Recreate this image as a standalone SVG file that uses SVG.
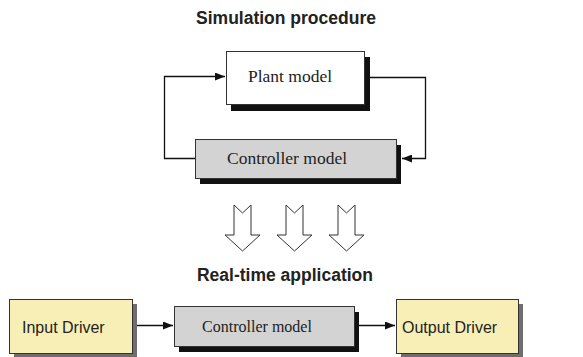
<svg xmlns="http://www.w3.org/2000/svg" width="583" height="357" viewBox="0 0 583 357">
<style>
.title{font-family:"Liberation Sans",Arial,sans-serif;font-weight:bold;font-size:17.5px;fill:#222;text-anchor:middle}
.serif{font-family:"Liberation Serif","Times New Roman",serif;fill:#222}
.sans{font-family:"Liberation Sans",Arial,sans-serif;font-size:16px;fill:#222}
.box{stroke:#333;stroke-width:1}
.white{fill:#fff}
.gray{fill:#d3d3d3}
.yellow{fill:#f8efb6}
.sh{fill:#111}
.shg{fill:#6e6e6e}
.conn{fill:none;stroke:#111;stroke-width:1.3}
.hollow{fill:#fff;stroke:#333;stroke-width:1}
</style>
<defs>
<marker id="ah" markerWidth="10" markerHeight="8" refX="10" refY="4" orient="auto" markerUnits="userSpaceOnUse">
<path d="M0,0 L10,4 L0,8 Z" fill="#111"/>
</marker>
</defs>
<text class="title" x="286" y="24">Simulation procedure</text>
<text class="title" x="285" y="281">Real-time application</text>
<g id="plant">
<rect class="sh" x="231" y="57" width="139" height="54"/>
<rect class="box white" x="226.5" y="51.5" width="138" height="53"/>
<text class="serif" x="290" y="82" font-size="17.5" text-anchor="middle">Plant model</text>
</g>
<g id="controller-sim">
<rect class="sh" x="200" y="145" width="201" height="39"/>
<rect class="box gray" x="195.5" y="139.5" width="201" height="39"/>
<text class="serif" x="287" y="164" font-size="17.5" text-anchor="middle">Controller model</text>
</g>
<g id="input-driver">
<rect class="shg" x="14" y="304" width="123" height="54"/>
<rect class="box yellow" x="9.5" y="299.5" width="123" height="54"/>
<text class="sans" x="22" y="333">Input Driver</text>
</g>
<g id="controller-rt">
<rect class="sh" x="179" y="312" width="180" height="40"/>
<rect class="box gray" x="174.5" y="306.5" width="180" height="40"/>
<text class="serif" x="257" y="332" font-size="16" text-anchor="middle">Controller model</text>
</g>
<g id="output-driver">
<rect class="shg" x="401" y="304" width="122" height="54"/>
<rect class="box yellow" x="396.5" y="299.5" width="122" height="54"/>
<text class="sans" x="402" y="333">Output Driver</text>
</g>
<g id="transfer-arrows">
<path class="hollow" d="M234,205 L242.5,213 L251,205 L251,235 L260,235 L242.5,251 L225,235 L234,235 Z"/>
<path class="hollow" d="M286,205 L294.5,213 L303,205 L303,235 L312,235 L294.5,251 L277,235 L286,235 Z"/>
<path class="hollow" d="M338,205 L346.5,213 L355,205 L355,235 L364,235 L346.5,251 L329,235 L338,235 Z"/>
</g>
<g id="connectors">
<path class="conn" d="M195,158.5 H164.5 V76.5 H225" marker-end="url(#ah)"/>
<path class="conn" d="M365,77.5 H425.5 V158.5 H402" marker-end="url(#ah)"/>
<path class="conn" d="M137,325.5 H173" marker-end="url(#ah)"/>
<path class="conn" d="M359,325.5 H395" marker-end="url(#ah)"/>
</g>
</svg>
